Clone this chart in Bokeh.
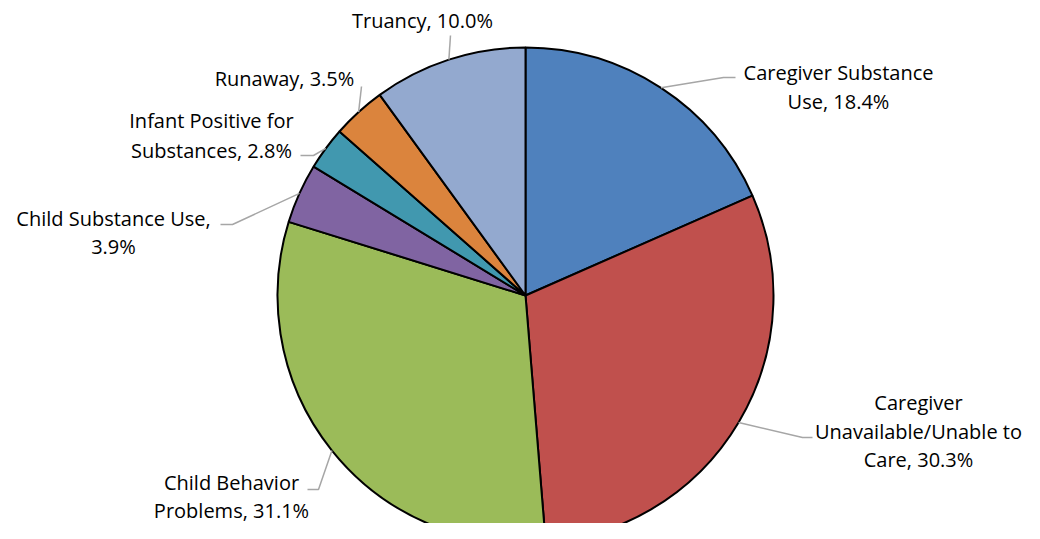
import math
from bokeh.plotting import figure
from bokeh.models import Range1d
from bokeh.core.properties import value
from bokeh.embed import file_html
from bokeh.resources import INLINE

# ---- data ----
categories = ["Caregiver Substance Use", "Caregiver Unavailable/Unable to Care",
              "Child Behavior Problems", "Child Substance Use",
              "Infant Positive for Substances", "Runaway", "Truancy"]
values = [18.4, 30.3, 31.1, 3.9, 2.8, 3.5, 10.0]
colors = ["#4F81BD", "#C0504D", "#9BBB59", "#8064A2", "#4198AF", "#DB843D", "#93A9CF"]
label_lines = [
    ["Caregiver Substance", "Use, 18.4%"],
    ["Caregiver", "Unavailable/Unable to", "Care, 30.3%"],
    ["Child Behavior", "Problems, 31.1%"],
    ["Child Substance Use,", "3.9%"],
    ["Infant Positive for", "Substances, 2.8%"],
    ["Runaway, 3.5%"],
    ["Truancy, 10.0%"],
]

# ---- layout (screen pixel coordinates of the picture) ----
W, H = 1024, 523
ORG = 0  # screen pixel of figure's top-left corner
def Y(py):
    return -py

cx, cy, R = 525, 295, 248
label_pos = [  # center x, first line center y, line gap
    (838, 72, 29),
    (918, 402, 28.5),
    (231, 482, 28),
    (113, 218, 28),
    (211, 120, 30),
    (284, 78, 0),
    (422, 20, 0),
]
leader_pts = [  # points from label side toward the slice (anchor appended)
    [(735, 77), (723, 77)],
    [(812, 437), (802, 437)],
    [(307, 489), (318, 489)],
    [(220, 224), (232, 224)],
    [(300, 155), (313, 155)],
    [(361, 86)],
    [(450, 35)],
]

p = figure(width=W, height=H, output_backend="svg", toolbar_location=None,
           x_range=Range1d(ORG, ORG + W), y_range=Range1d(Y(ORG + H), Y(ORG)),
           min_border=0, outline_line_color=None)
p.axis.visible = False
p.grid.visible = False
p.background_fill_color = "white"
p.border_fill_color = "white"

total = sum(values)
starts, ends, mids = [], [], []
cum = 0.0
for v in values:
    a0 = math.pi / 2 - 2 * math.pi * cum / total
    cum += v
    a1 = math.pi / 2 - 2 * math.pi * cum / total
    starts.append(a1)
    ends.append(a0)
    mids.append((a0 + a1) / 2)

p.wedge(x=[cx] * len(values), y=[Y(cy)] * len(values), radius=R,
        start_angle=starts, end_angle=ends, direction="anticlock",
        fill_color=colors, line_color="black", line_width=2)

# leader lines
xs, ys = [], []
for pts, m in zip(leader_pts, mids):
    ax = cx + R * math.cos(m)
    ay = Y(cy) + R * math.sin(m)
    xs.append([q[0] for q in pts] + [ax])
    ys.append([Y(q[1]) for q in pts] + [ay])
p.multi_line(xs=xs, ys=ys, line_color="#A6A6A6", line_width=1.5)

# labels
tx, ty, tt = [], [], []
for lines, (lx, ly, gap) in zip(label_lines, label_pos):
    for i, s in enumerate(lines):
        tx.append(lx)
        ty.append(Y(ly + i * gap))
        tt.append(s)
p.text(x=tx, y=ty, text=tt, text_font=value("Open Sans"), text_font_size="20px",
       text_align="center", text_baseline="middle", text_color="black")

open("out.html", "w").write(file_html(p, INLINE))
